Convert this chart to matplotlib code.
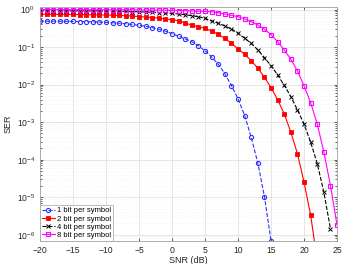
import numpy as np
import matplotlib
matplotlib.use("Agg")
import matplotlib.pyplot as plt
from matplotlib.ticker import LogLocator, NullFormatter

# SNR axis (dB)
snr = list(range(-20, 26))

# SER, one value per dB; nan = not drawn (zero)
ser_1bit = [0.49, 0.49, 0.488, 0.486, 0.484, 0.482, 0.478, 0.474, 0.468, 0.462,
            0.454, 0.444, 0.432, 0.418, 0.40, 0.38, 0.357, 0.33, 0.30, 0.265,
            0.228, 0.195, 0.164, 0.139, 0.107, 0.080, 0.0546, 0.0349, 0.0196, 0.0094,
            0.00417, 0.0015, 3.9e-4, 8.1e-5, 1.03e-5, 6.8e-7,
            np.nan, np.nan, np.nan, np.nan, np.nan, np.nan, np.nan, np.nan, np.nan, np.nan]
ser_2bit = [0.745, 0.744, 0.743, 0.742, 0.74, 0.738, 0.735, 0.731, 0.726, 0.72,
            0.713, 0.705, 0.695, 0.683, 0.668, 0.652, 0.633, 0.612, 0.59, 0.565,
            0.535, 0.50, 0.44, 0.38, 0.35, 0.315, 0.268, 0.219, 0.171, 0.126,
            0.089, 0.0645, 0.0435, 0.0273, 0.0157, 0.0083, 0.00392, 0.00166, 5.4e-4, 1.43e-4,
            2.5e-5, 3.3e-6, 2e-7, np.nan, np.nan, np.nan]
ser_4bit = [0.93, 0.929, 0.928, 0.927, 0.926, 0.925, 0.923, 0.921, 0.918, 0.914,
            0.91, 0.905, 0.899, 0.892, 0.883, 0.872, 0.86, 0.846, 0.83, 0.81,
            0.79, 0.76, 0.727, 0.684, 0.644, 0.583, 0.495, 0.43, 0.364, 0.303,
            0.233, 0.171, 0.126, 0.0837, 0.0522, 0.0318, 0.0181, 0.0095, 0.0048, 0.00212,
            8.9e-4, 2.9e-4, 7.9e-5, 1.35e-5, 1.45e-6, np.nan]
ser_8bit = [0.996, 0.996, 0.995, 0.995, 0.994, 0.994, 0.993, 0.992, 0.991, 0.99,
            0.988, 0.986, 0.984, 0.982, 0.979, 0.976, 0.972, 0.968, 0.963, 0.957,
            0.95, 0.942, 0.932, 0.92, 0.905, 0.89, 0.874, 0.822, 0.759, 0.701,
            0.644, 0.559, 0.474, 0.387, 0.299, 0.214, 0.139, 0.0837, 0.0474, 0.0231,
            0.0093, 0.0033, 8.9e-4, 1.6e-4, 2.05e-5, 1.78e-6]

labels = ['1 bit per symbol', '2 bit per symbol', '4 bit per symbol', '8 bit per symbol']
yticks = [1e-6, 1e-5, 1e-4, 1e-3, 1e-2, 1e-1, 1e0]

plt.rcParams['font.family'] = ['Liberation Sans', 'DejaVu Sans']

fig = plt.figure(figsize=(3.64, 2.64), dpi=100)
ax = fig.add_axes([0.11, 0.087, 0.816, 0.886])

ax.semilogy(snr, ser_1bit, '--o', color='#3030ff', lw=0.8, ms=3, mfc='none', mew=0.8, label=labels[0])
ax.semilogy(snr, ser_2bit, '-s', color='red', lw=0.8, ms=2.5, mfc='red', mew=0.6, label=labels[1])
ax.semilogy(snr, ser_4bit, '--x', color='black', lw=0.8, ms=3, mew=0.7, label=labels[2])
ax.semilogy(snr, ser_8bit, '-s', color='magenta', lw=0.8, ms=3, mfc='none', mew=0.8, label=labels[3])

ax.set_xlim(-20, 25)
ax.set_ylim(6.8e-7, 1.16)
ax.set_xticks(range(-20, 26, 5))
ax.set_yticks(yticks)
ax.yaxis.set_minor_locator(LogLocator(base=10, subs=np.arange(2, 10), numticks=20))
ax.yaxis.set_minor_formatter(NullFormatter())

ax.grid(True, which='major', color='#dcdcdc', lw=0.5)
ax.grid(True, which='minor', axis='y', color='#ececec', lw=0.4, ls=':')
ax.tick_params(which='both', direction='in', labelsize=6.2, colors='#262626', length=2.5, width=0.5)
ax.tick_params(which='minor', length=1.5)
ax.tick_params(right=True, top=True, which='both')
for sp in ax.spines.values():
    sp.set_color('#a0a0a0')
    sp.set_linewidth(0.6)

ax.set_xlabel('SNR (dB)', fontsize=6.5, labelpad=0.5, color='#262626')
ax.set_ylabel('SER', fontsize=6.5, labelpad=3, color='#262626')

leg = ax.legend(loc='lower left', fontsize=5.5, handlelength=1.6, handletextpad=0.3,
                labelspacing=0.1, borderpad=0.25, borderaxespad=0.05, fancybox=False,
                framealpha=1, edgecolor='#a0a0a0')
leg.get_frame().set_linewidth(0.5)

fig.savefig('out.png', dpi=100)
